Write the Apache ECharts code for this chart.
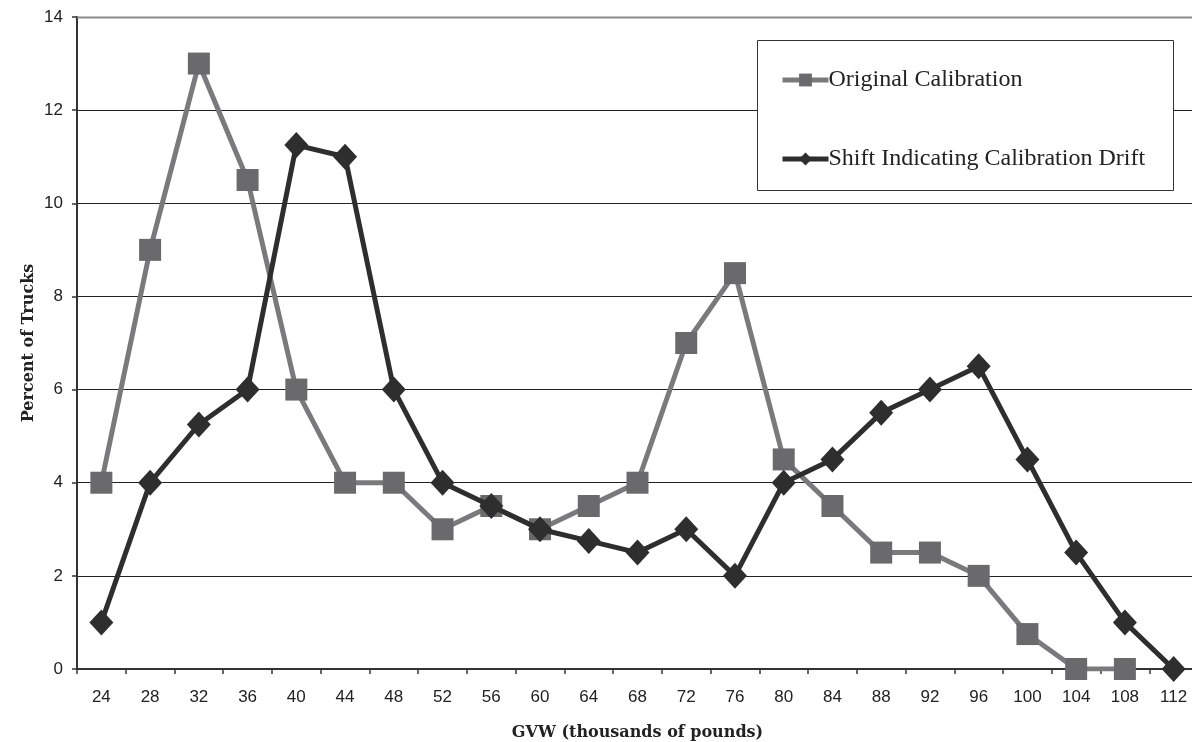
<!DOCTYPE html>
<html><head><meta charset="utf-8">
<script src="https://cdn.jsdelivr.net/npm/echarts@6/dist/echarts.min.js"></script>
<style>html,body{margin:0;padding:0;background:#fff}#c{width:1192px;height:742px}</style>
</head><body><div id="c"></div>
<script>
const categories = ['24','28','32','36','40','44','48','52','56','60','64','68','72','76','80','84','88','92','96','100','104','108','112'];
const original = [4,9,13,10.5,6,4,4,3,3.5,3,3.5,4,7,8.5,4.5,3.5,2.5,2.5,2,0.75,0,0,null];
const shifted = [1,4,5.25,6,11.25,11,6,4,3.5,3,2.75,2.5,3,2,4,4.5,5.5,6,6.5,4.5,2.5,1,0];
const yTicks = [0,2,4,6,8,10,12,14];

const chart = echarts.init(document.getElementById('c'));
chart.setOption({
  animation:false,
  grid:{left:77,right:-6,top:17,bottom:73,outerBoundsMode:'none',containLabel:false},
  graphic:[
    {type:'line',shape:{x1:77,y1:17.5,x2:1192,y2:17.5},style:{stroke:'#8a8a8a',lineWidth:2},z:5},
    {type:'rect',shape:{x:757.5,y:40.5,width:416,height:150},style:{fill:'#fff',stroke:'#333',lineWidth:1},z:50}
  ],
  legend:{
    orient:'vertical',left:775,top:63,itemGap:55,itemWidth:46,itemHeight:16,z:60,
    lineStyle:{width:5},
    textStyle:{fontFamily:'Liberation Serif',fontSize:24,color:'#222',padding:[0,0,0,-5]},
    data:['Original Calibration','Shift Indicating Calibration Drift']
  },
  xAxis:{
    type:'category',data:categories,boundaryGap:true,
    name:'GVW (thousands of pounds)',nameLocation:'middle',nameGap:56,
    nameTextStyle:{fontFamily:'DejaVu Serif',fontWeight:'bold',fontSize:16,color:'#222'},
    axisLine:{lineStyle:{color:'#333',width:2}},
    axisTick:{show:true,length:5,lineStyle:{color:'#333',width:1.5},alignWithLabel:false},
    axisLabel:{fontFamily:'Liberation Sans',fontSize:17,color:'#222',margin:20,interval:0}
  },
  yAxis:{
    type:'value',min:0,max:14,interval:2,
    name:'Percent of Trucks',nameLocation:'middle',nameGap:40,nameRotate:90,nameMoveOverlap:false,
    nameTextStyle:{fontFamily:'DejaVu Serif',fontWeight:'bold',fontSize:16,color:'#222'},
    axisLine:{show:true,lineStyle:{color:'#333',width:2}},
    axisTick:{show:true,length:5,lineStyle:{color:'#333',width:1.5}},
    axisLabel:{fontFamily:'Liberation Sans',fontSize:17,color:'#222',margin:14,
      formatter:v=>yTicks.includes(v)?String(v):''},
    splitLine:{show:true,lineStyle:{color:'#222',width:1}}
  },
  series:[
    {name:'Original Calibration',type:'line',data:original,symbol:'rect',symbolSize:22,
     lineStyle:{color:'#7a7a7c',width:5},itemStyle:{color:'#6a6a6d',opacity:1},z:2},
    {name:'Shift Indicating Calibration Drift',type:'line',data:shifted,symbol:'diamond',symbolSize:[24,26],
     lineStyle:{color:'#2e2e2e',width:5},itemStyle:{color:'#2e2e2e',opacity:1},z:3}
  ]
});
</script></body></html>
